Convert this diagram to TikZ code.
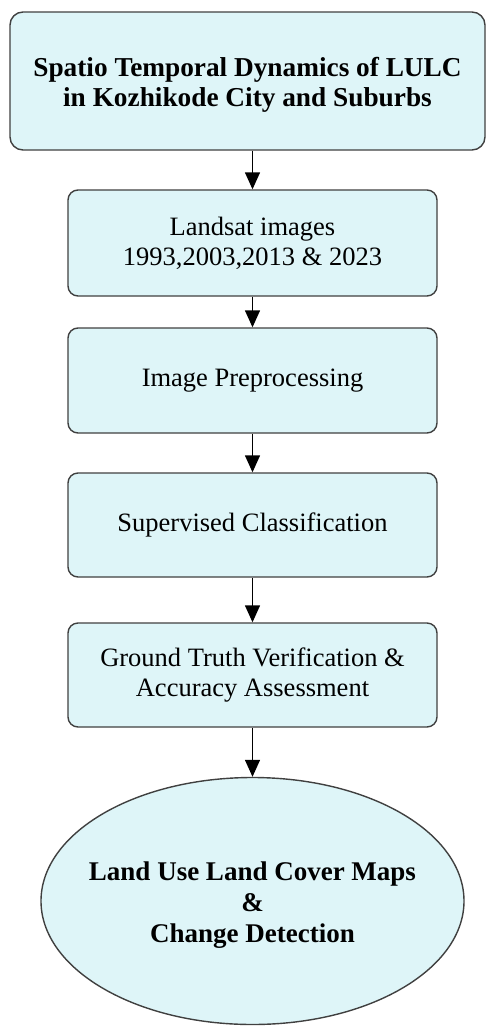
\documentclass[tikz,border=0pt]{standalone}
\usepackage{fontspec}
\setmainfont{Liberation Serif}
\usetikzlibrary{arrows.meta,shapes.geometric}
\definecolor{boxfill}{RGB}{222,245,248}
\definecolor{boxline}{RGB}{64,64,64}
\begin{document}
\begin{tikzpicture}[x=1pt,y=-1pt,
  flowbox/.style={draw=boxline,line width=1.4pt,fill=boxfill,rounded corners=10pt,
    inner sep=0pt,align=center,font=\fontsize{26.5}{30}\selectfont},
  boldtext/.style={inner sep=0pt,align=center,font=\fontsize{27.3}{30.5}\selectfont\bfseries},
  flowarrow/.style={line width=1.4pt,-{Triangle[width=15pt,length=17pt]}}]
\useasboundingbox (0,0) rectangle (486,1026);
\node[flowbox,rounded corners=13pt,minimum width=475pt,minimum height=138pt] (title) at (247.5,81) {};
\node[boldtext] (titletext) at ([yshift=-4pt]title.center)
  {Spatio Temporal Dynamics of LULC\\in Kozhikode City and Suburbs};
\node[flowbox,minimum width=369pt,minimum height=106pt] (landsat) at (252.5,243)
  {Landsat images\\1993,2003,2013 \& 2023};
\node[flowbox,minimum width=369pt,minimum height=105pt] (prep) at (252.5,380.5)
  {Image Preprocessing};
\node[flowbox,minimum width=369pt,minimum height=104pt] (class) at (252.5,525)
  {Supervised Classification};
\node[flowbox,minimum width=369pt,minimum height=104pt] (ground) at (252.5,675)
  {Ground Truth Verification \&\\Accuracy Assessment};
\node[draw=boxline,line width=1.4pt,fill=boxfill,ellipse,inner sep=0pt,
  minimum width=423pt,minimum height=247pt] (maps) at (252.5,901) {};
\node[boldtext,font=\fontsize{27}{31}\selectfont\bfseries] (mapstext) at ([yshift=-4pt]maps.center)
  {Land Use Land Cover Maps\\\&\\Change Detection};
\draw[flowarrow] (title.south -| landsat) -- (landsat.north);
\draw[flowarrow] (landsat.south) -- (prep.north);
\draw[flowarrow] (prep.south) -- (class.north);
\draw[flowarrow] (class.south) -- (ground.north);
\draw[flowarrow] (ground.south) -- (maps.north);
\end{tikzpicture}
\end{document}
